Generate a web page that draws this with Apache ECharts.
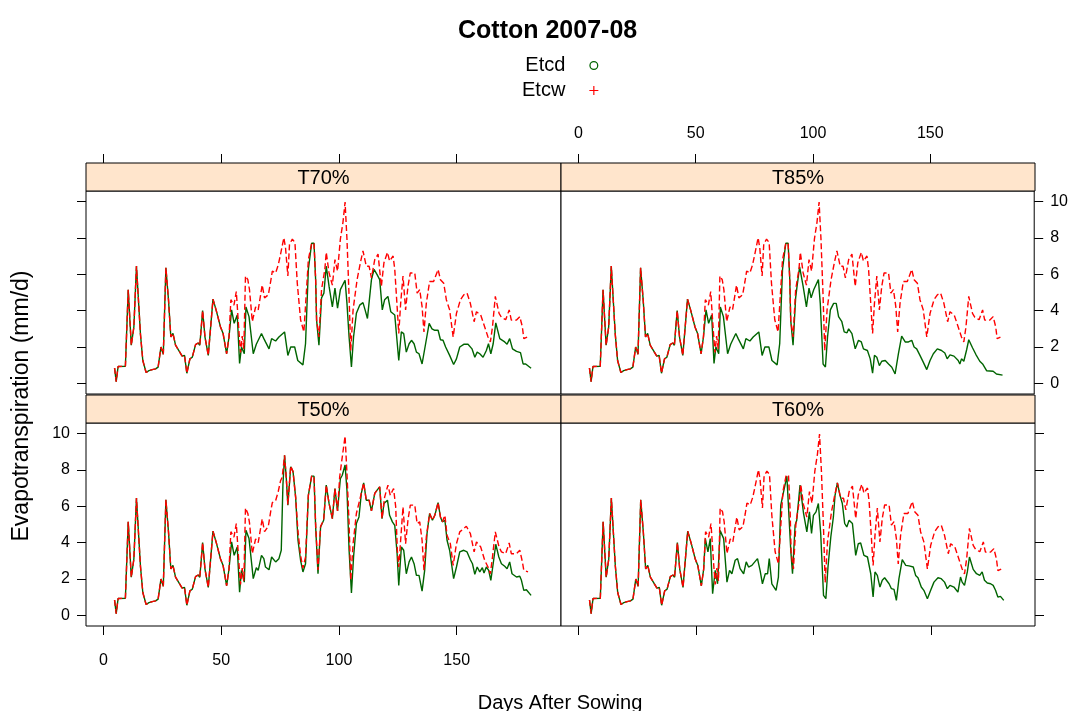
<!DOCTYPE html>
<html>
<head>
<meta charset="utf-8">
<script src="https://cdn.jsdelivr.net/npm/echarts@6/dist/echarts.min.js"></script>
<style>html,body{margin:0;padding:0;background:#fff}#c{width:1071px;height:711px}</style>
</head>
<body>
<div id="c"></div>
<script>
// ---------- DATA ----------
const titleText = 'Cotton 2007-08';
const seriesNames = ['Etcd', 'Etcw'];
const panelNames = ['T70%', 'T85%', 'T50%', 'T60%'];
const xTicks = [0, 50, 100, 150];
const yTicks = [0, 2, 4, 6, 8, 10];

// days 5-53: Etcd and Etcw coincide in every panel
const early = [[4.7,0.85],[5.4,0.1],[6.2,0.93],[9.3,0.94],[10.5,5.15],[11.8,2.1],[12.9,3.1],[14.0,6.45],[15.7,2.7],[16.7,1.26],[18.1,0.6],[19.3,0.7],[20.7,0.76],[22.1,0.8],[23.2,0.9],[24.4,2.0],[25.4,1.6],[26.5,6.35],[27.6,4.6],[28.6,2.55],[29.5,2.75],[30.6,2.1],[32.0,1.8],[33.4,1.5],[34.4,1.54],[35.4,0.56],[36.7,1.35],[37.7,1.44],[39.1,2.13],[40.2,2.22],[40.9,2.1],[42.1,4.0],[43.1,2.55],[44.5,1.54],[46.5,4.63],[47.9,4.0],[49.7,3.1],[50.8,2.74],[52.3,1.63],[53.3,2.55]];

// Etcw after day 53 (T70, T85, T60)
const etcwLate = [[54.1,4.6],[55.4,4.3],[56.4,5.05],[57.5,2.9],[58.2,1.7],[58.9,2.6],[59.6,1.9],[60.3,5.9],[61.3,5.7],[62.0,5.15],[63.2,3.4],[64.6,4.2],[65.7,4.04],[67.4,5.4],[68.4,4.7],[70.0,4.87],[71.0,5.6],[71.7,6.17],[73.1,6.07],[74.2,6.5],[75.2,7.1],[76.6,8.0],[77.3,7.46],[78.3,5.9],[79.0,7.65],[80.2,7.93],[81.3,7.74],[82.3,5.5],[83.7,3.5],[85.1,2.83],[86.3,5.3],[87.0,6.8],[88.4,7.7],[89.4,7.7],[90.1,5.7],[90.5,3.48],[91.5,2.55],[92.6,5.15],[94.0,6.26],[94.6,7.2],[95.8,6.07],[97.2,5.4],[98.3,6.8],[99.4,6.17],[100.6,7.93],[101.7,8.85],[102.6,9.96],[103.4,7.93],[104.3,4.78],[105.0,1.8],[106.0,4.04],[107.7,5.7],[109.1,6.63],[110.2,7.28],[111.6,6.44],[112.8,6.44],[113.8,5.8],[115.2,6.8],[116.6,7.1],[118.0,5.33],[119.1,6.63],[120.6,7.2],[121.5,6.72],[123.0,7.0],[123.7,6.26],[124.7,4.22],[125.4,2.74],[126.2,4.4],[127.2,5.9],[128.3,4.04],[129.3,5.33],[130.3,6.07],[132.2,6.07],[133.2,4.96],[134.3,5.15],[135.3,4.22],[136.1,2.83],[137.1,4.4],[138.5,5.6],[140.2,5.6],[142.1,6.26],[143.1,5.7],[144.5,5.5],[145.6,4.6],[147.0,4.04],[148.5,2.55],[149.9,3.85],[151.6,4.6],[153.0,4.87],[154.4,4.96],[155.8,4.4],[157.4,3.39],[158.4,3.94],[160.2,3.76],[161.9,3.1],[163.3,2.55],[164.3,2.28],[165.2,3.1],[166.4,4.78],[168.0,3.85],[169.0,3.63],[170.8,3.5],[172.3,4.04],[173.2,3.48],[175.4,3.48],[176.8,3.67],[177.9,3.1],[178.5,2.46],[179.9,2.55]];

// Etcw after day 53 (T50)
const etcwLateT50 = [[54.1,4.6],[55.4,4.3],[56.4,5.05],[57.5,2.9],[58.2,1.7],[58.9,2.6],[59.6,1.9],[60.3,5.9],[61.3,5.6],[62.0,5.1],[63.2,3.4],[64.6,4.2],[65.7,4.0],[67.4,5.3],[68.4,4.6],[70.0,4.9],[71.0,5.7],[71.7,6.2],[73.1,6.3],[74.2,6.8],[75.2,7.4],[75.9,7.6],[76.9,8.8],[77.6,7.6],[78.3,6.1],[79.5,8.2],[80.5,7.9],[81.6,6.5],[82.6,4.6],[83.7,3.3],[84.7,2.6],[85.8,3.2],[87.0,6.6],[88.4,7.65],[89.4,7.65],[90.1,5.0],[91.1,2.5],[92.2,4.9],[93.5,5.23],[94.6,7.16],[95.8,6.15],[97.2,5.32],[98.3,6.97],[99.4,5.74],[100.3,7.6],[101.4,8.7],[102.6,9.85],[103.4,7.8],[104.3,5.05],[105.0,1.93],[106.0,3.94],[107.4,5.6],[108.8,6.33],[110.5,7.28],[111.6,6.33],[112.8,6.33],[113.8,5.74],[115.2,6.7],[116.2,6.88],[117.3,7.06],[118.3,5.32],[119.4,6.5],[120.8,7.16],[121.8,6.6],[123.2,6.97],[124.1,5.96],[124.8,3.58],[125.4,2.66],[126.2,4.13],[127.2,5.96],[128.3,3.94],[129.3,5.23],[130.3,6.06],[132.2,6.06],[133.2,5.05],[134.3,5.14],[135.3,4.13],[136.1,2.48],[137.1,4.31],[138.5,5.6],[139.7,5.23],[140.7,5.5],[142.1,6.2],[143.1,5.41],[143.9,5.14],[145.0,5.5],[145.9,4.4],[147.3,3.94],[148.5,2.75],[149.9,3.94],[151.3,4.59],[153.0,4.77],[154.1,4.9],[155.8,4.5],[157.4,3.49],[158.4,4.04],[160.2,3.76],[161.9,3.03],[163.3,2.66],[164.3,2.29],[165.2,3.21],[166.4,4.59],[168.0,3.76],[169.0,3.49],[170.8,3.39],[172.3,3.98],[173.2,3.39],[175.4,3.39],[176.8,3.58],[177.9,2.94],[178.5,2.48],[180.3,2.39]];

const etcdLateT70 = [[54.4,4.04],[55.5,3.3],[56.8,3.76],[57.8,1.1],[58.6,2.0],[59.8,1.63],[60.5,4.2],[61.8,3.67],[63.6,1.63],[64.9,2.15],[65.7,2.1],[67.1,2.74],[68.1,2.46],[68.8,2.28],[70.3,1.9],[71.4,2.46],[73.1,2.33],[74.5,2.55],[76.9,2.83],[78.3,1.54],[79.5,2.0],[81.2,2.0],[82.5,1.26],[84.7,1.02],[85.8,2.18],[87.0,6.26],[88.4,7.7],[89.4,7.7],[90.1,5.7],[90.5,3.48],[91.5,2.1],[92.6,4.7],[93.6,4.96],[94.6,6.44],[95.8,5.33],[97.2,4.2],[98.3,5.24],[99.4,4.13],[100.6,5.15],[101.4,5.24],[102.6,5.67],[103.4,4.4],[104.3,2.55],[105.3,0.9],[106.2,2.55],[107.4,3.85],[108.8,4.3],[110.2,4.44],[111.1,4.04],[112.1,3.57],[112.8,3.48],[113.8,5.7],[114.9,6.26],[116.2,5.98],[117.3,5.7],[118.4,4.04],[119.4,4.6],[120.8,4.78],[122.0,3.94],[123.7,3.76],[125.4,1.26],[126.5,2.83],[127.5,2.74],[128.6,1.72],[129.8,2.18],[130.8,2.37],[131.9,2.18],[132.9,1.72],[134.0,1.63],[135.3,1.07],[136.8,2.18],[138.3,3.3],[139.5,3.0],[140.7,2.92],[142.1,2.92],[143.1,2.4],[144.2,2.37],[145.3,2.0],[147.0,1.54],[148.7,1.04],[149.9,1.35],[151.3,2.0],[153.0,2.15],[154.8,2.15],[156.5,1.9],[157.7,1.44],[158.7,1.72],[159.8,1.63],[161.2,1.44],[162.6,1.81],[163.5,2.18],[164.5,1.63],[165.5,2.18],[166.6,3.33],[168.3,2.46],[170.4,2.28],[171.4,2.15],[172.5,2.46],[173.7,1.9],[175.4,1.76],[177.1,1.69],[178.2,1.07],[179.3,1.07],[181.6,0.83]];

const etcdLateT85 = [[54.4,4.04],[55.5,3.3],[56.8,3.76],[57.8,1.1],[58.6,2.0],[59.8,1.63],[60.5,4.2],[61.8,3.67],[63.6,1.63],[64.9,2.15],[65.7,2.1],[67.1,2.74],[68.1,2.46],[68.8,2.28],[70.3,1.9],[71.4,2.46],[73.1,2.33],[74.5,2.55],[76.9,2.83],[78.3,1.54],[79.5,2.0],[81.2,2.0],[82.5,1.26],[84.7,1.02],[85.8,2.18],[87.0,6.26],[88.4,7.7],[89.4,7.7],[90.1,5.7],[90.5,3.48],[91.5,2.1],[92.6,4.7],[93.2,5.33],[94.3,6.4],[95.8,5.33],[97.2,4.2],[98.3,5.24],[99.2,4.7],[100.3,5.15],[101.1,5.2],[102.3,5.7],[103.1,4.4],[104.3,1.07],[105.3,0.9],[106.2,2.55],[107.4,4.04],[108.8,4.4],[109.9,4.4],[110.9,3.67],[112.3,3.39],[113.3,2.83],[114.5,2.78],[115.2,3.0],[116.6,2.74],[118.0,1.9],[119.4,2.37],[120.6,2.28],[121.5,1.9],[123.2,1.81],[124.4,1.35],[125.4,0.57],[126.2,1.54],[127.2,1.44],[128.3,0.98],[129.3,1.22],[130.8,1.26],[132.2,1.07],[133.6,0.89],[135.0,0.52],[136.4,1.63],[137.8,2.6],[139.3,2.28],[140.7,2.28],[142.1,2.37],[143.1,2.0],[144.2,1.9],[145.6,1.54],[147.0,1.17],[148.5,0.76],[149.9,1.26],[151.3,1.63],[153.0,1.9],[154.8,1.81],[156.2,1.67],[157.2,1.35],[158.4,1.57],[160.1,1.5],[161.9,1.26],[162.6,1.07],[163.3,1.35],[164.3,1.22],[165.5,1.85],[166.4,2.4],[168.0,1.96],[169.4,1.6],[171.1,1.22],[172.3,1.07],[174.0,0.7],[176.8,0.67],[178.2,0.52],[180.8,0.46]];

const etcdLateT50 = [[54.4,4.04],[55.5,3.3],[56.8,3.76],[57.8,1.28],[58.6,2.48],[59.8,1.83],[60.5,4.68],[61.8,4.22],[63.6,2.02],[64.9,2.62],[65.7,2.48],[67.1,3.3],[68.1,3.12],[68.8,2.66],[70.3,2.51],[71.4,3.21],[73.1,2.94],[74.5,3.12],[75.5,3.58],[76.2,7.16],[76.9,8.8],[77.6,7.6],[78.3,6.06],[79.5,8.17],[80.5,7.9],[81.6,6.5],[82.6,4.13],[83.7,3.03],[84.7,2.39],[85.8,2.84],[87.0,6.6],[88.4,7.65],[89.4,7.65],[90.1,4.86],[91.1,2.29],[92.2,4.86],[93.5,5.23],[94.6,7.16],[95.8,6.15],[97.2,5.32],[98.3,6.97],[99.4,5.74],[100.6,7.52],[101.4,7.7],[102.6,8.26],[103.4,6.88],[104.3,3.58],[105.3,1.23],[106.2,3.21],[107.4,5.05],[108.5,5.41],[109.5,6.7],[110.5,7.28],[111.6,6.33],[112.8,6.33],[113.8,5.74],[115.2,6.7],[116.2,6.88],[117.3,7.06],[118.3,5.32],[119.1,6.15],[120.6,6.33],[121.5,5.5],[122.7,5.14],[123.7,4.95],[124.7,3.39],[125.4,1.65],[126.5,3.76],[127.5,3.58],[128.6,2.29],[129.8,2.94],[130.8,3.21],[131.9,2.84],[132.9,2.2],[134.0,2.2],[135.3,1.34],[136.4,2.48],[137.4,4.5],[138.5,5.6],[139.7,5.23],[140.7,5.5],[142.1,6.2],[143.1,5.41],[143.9,5.14],[145.0,5.23],[145.9,4.13],[147.0,3.58],[148.7,2.02],[149.9,2.66],[151.3,3.49],[153.0,3.58],[154.4,3.49],[155.8,3.06],[156.7,2.84],[157.7,2.26],[158.7,2.66],[159.8,2.39],[160.9,2.62],[161.6,2.33],[162.6,2.66],[163.6,2.48],[164.5,1.93],[165.5,2.84],[166.6,3.91],[167.9,3.21],[169.0,2.84],[170.4,2.7],[171.4,2.57],[172.5,2.94],[173.5,2.29],[175.4,2.11],[176.8,2.15],[177.5,1.93],[178.5,1.38],[179.6,1.41],[181.6,1.1]];

const etcdLateT60 = [[54.0,4.22],[55.1,3.49],[56.1,4.22],[57.1,1.19],[58.2,2.48],[59.2,1.74],[60.3,4.66],[61.8,4.22],[63.2,1.83],[64.3,2.48],[65.3,2.29],[66.7,3.03],[67.7,3.12],[68.8,2.57],[70.3,2.29],[71.4,2.94],[72.4,2.66],[73.8,2.75],[76.2,3.12],[77.3,2.48],[78.3,1.74],[79.5,2.29],[80.5,2.29],[81.2,3.12],[82.3,1.74],[84.1,1.38],[85.1,2.11],[86.1,6.06],[88.7,7.65],[89.4,7.65],[90.4,3.49],[91.1,2.29],[92.2,4.95],[92.9,5.23],[94.3,7.16],[95.8,5.6],[97.2,4.59],[98.3,5.69],[99.2,4.5],[100.0,5.5],[101.1,5.69],[102.1,6.15],[103.1,4.5],[104.3,1.1],[105.3,0.92],[106.2,2.66],[107.4,4.31],[108.5,5.41],[109.2,6.6],[110.2,7.28],[111.3,6.6],[112.3,6.15],[113.3,5.05],[114.2,4.86],[115.2,5.23],[116.6,5.05],[118.0,3.3],[119.1,3.94],[120.1,3.98],[121.5,3.3],[123.0,3.21],[124.4,2.29],[125.4,1.01],[126.2,2.39],[127.2,2.2],[128.3,1.56],[129.3,1.93],[130.3,2.07],[132.2,1.74],[133.2,1.47],[134.3,1.43],[135.3,0.83],[136.4,2.02],[137.8,3.06],[139.3,2.75],[140.7,2.72],[142.5,2.66],[143.5,2.2],[144.5,2.07],[145.9,1.56],[147.0,1.38],[148.5,0.92],[149.9,1.38],[151.3,1.83],[153.0,2.07],[154.4,2.02],[155.8,1.83],[157.0,1.47],[158.1,1.65],[159.8,1.56],[161.5,1.28],[162.6,2.11],[163.3,1.83],[164.3,1.65],[165.5,2.39],[166.4,3.21],[168.0,2.53],[169.4,2.29],[170.8,2.2],[171.8,2.39],[172.8,1.93],[174.0,1.78],[175.4,1.74],[176.5,1.65],[177.5,1.38],[178.5,1.01],[179.6,1.05],[181.0,0.83]];

// ---------- LAYOUT / STYLE ----------
const FONT = "'Liberation Sans',Arial,sans-serif";
const GREEN = '#006400', RED = '#FF0000', STRIP = '#FFE5CC';
const X_MIN = -7.43, X_MAX = 194.3, Y_MIN = -0.58, Y_MAX = 10.57;
const PW = [475, 474], PL = [86, 561], PT = [191, 423], PH = 203, SH = 28;

const panelData = [
  { etcd: early.concat(etcdLateT70), etcw: early.concat(etcwLate) },
  { etcd: early.concat(etcdLateT85), etcw: early.concat(etcwLate) },
  { etcd: early.concat(etcdLateT50), etcw: early.concat(etcwLateT50) },
  { etcd: early.concat(etcdLateT60), etcw: early.concat(etcwLate) }
];

const grids = [], xAxes = [], yAxes = [], series = [], graphics = [];
for (let i = 0; i < 4; i++) {
  const row = i < 2 ? 0 : 1, col = i % 2;
  grids.push({ left: PL[col], top: PT[row], width: PW[col], height: PH,
    show: true, borderColor: '#000', borderWidth: 1, backgroundColor: '#fff' });
  const labelOn = (row === 1 && col === 0) || (row === 0 && col === 1);
  xAxes.push({
    gridIndex: i, type: 'value', min: X_MIN, max: X_MAX,
    position: row === 0 ? 'top' : 'bottom', offset: row === 0 ? SH : 0,
    splitLine: { show: false }, axisLine: { show: false, onZero: false },
    axisTick: { show: true, length: 9, customValues: xTicks, lineStyle: { color: '#000' } },
    axisLabel: { show: labelOn, customValues: xTicks, margin: row === 0 ? 21 : 27,
      fontFamily: FONT, fontSize: 16, color: '#000' }
  });
  yAxes.push({
    gridIndex: i, type: 'value', min: Y_MIN, max: Y_MAX,
    position: col === 0 ? 'left' : 'right',
    splitLine: { show: false }, axisLine: { show: false, onZero: false },
    axisTick: { show: true, length: 9, customValues: yTicks, lineStyle: { color: '#000' } },
    axisLabel: { show: labelOn, customValues: yTicks, margin: 16,
      fontFamily: FONT, fontSize: 16, color: '#000' }
  });
  series.push({
    name: seriesNames[0], type: 'line', xAxisIndex: i, yAxisIndex: i,
    data: panelData[i].etcd, showSymbol: false, symbol: 'none', silent: true,
    lineStyle: { color: GREEN, width: 1.4 }, itemStyle: { color: GREEN }
  });
  series.push({
    name: seriesNames[1], type: 'line', xAxisIndex: i, yAxisIndex: i,
    data: panelData[i].etcw, showSymbol: false, symbol: 'none', silent: true,
    lineStyle: { color: RED, width: 1.4, type: [6, 3] }, itemStyle: { color: RED }
  });
  graphics.push({
    type: 'rect', shape: { x: PL[col], y: PT[row] - SH, width: PW[col], height: SH },
    style: { fill: STRIP, stroke: '#000', lineWidth: 1 }, z: 10
  });
  graphics.push({
    type: 'text', x: PL[col] + PW[col] / 2, y: PT[row] - SH / 2 + 1, z: 11,
    style: { text: panelNames[i], fontFamily: FONT, fontSize: 20, fill: '#000',
      textAlign: 'center', textVerticalAlign: 'middle' }
  });
}
graphics.push({
  type: 'text', x: 22, y: 406, rotation: Math.PI / 2,
  style: { text: 'Evapotranspiration (mm/d)', fontFamily: FONT, fontSize: 23,
    fill: '#000', textAlign: 'center', textVerticalAlign: 'middle' }
});
graphics.push({
  type: 'text', x: 560, y: 703,
  style: { text: 'Days After Sowing', fontFamily: FONT, fontSize: 20,
    fill: '#000', textAlign: 'center', textVerticalAlign: 'middle' }
});

const chart = echarts.init(document.getElementById('c'), null, { renderer: 'canvas' });
chart.setOption({
  animation: false,
  backgroundColor: '#fff',
  title: { text: titleText, left: 458, top: 19, padding: 0,
    textStyle: { fontFamily: FONT, fontWeight: 'bold', fontSize: 25, color: '#000' } },
  legend: {
    orient: 'vertical', left: 522, top: 54, align: 'right', itemGap: 2, padding: 0,
    itemWidth: 9, itemHeight: 9,
    data: [
      { name: seriesNames[0], icon: 'path://M5,0A5,5 0 1,1 4.99,0Z M5,1.4A3.6,3.6 0 1,0 5.01,1.4Z', itemStyle: { color: GREEN } },
      { name: seriesNames[1], icon: 'path://M4.35,0h1.3v10h-1.3z M0,4.35h10v1.3h-10z', itemStyle: { color: RED } }
    ],
    textStyle: { fontFamily: FONT, fontSize: 20, color: '#000', padding: [0, 19, 0, 0], lineHeight: 23 }
  },
  grid: grids, xAxis: xAxes, yAxis: yAxes, series: series, graphic: graphics
});
</script>
</body>
</html>
